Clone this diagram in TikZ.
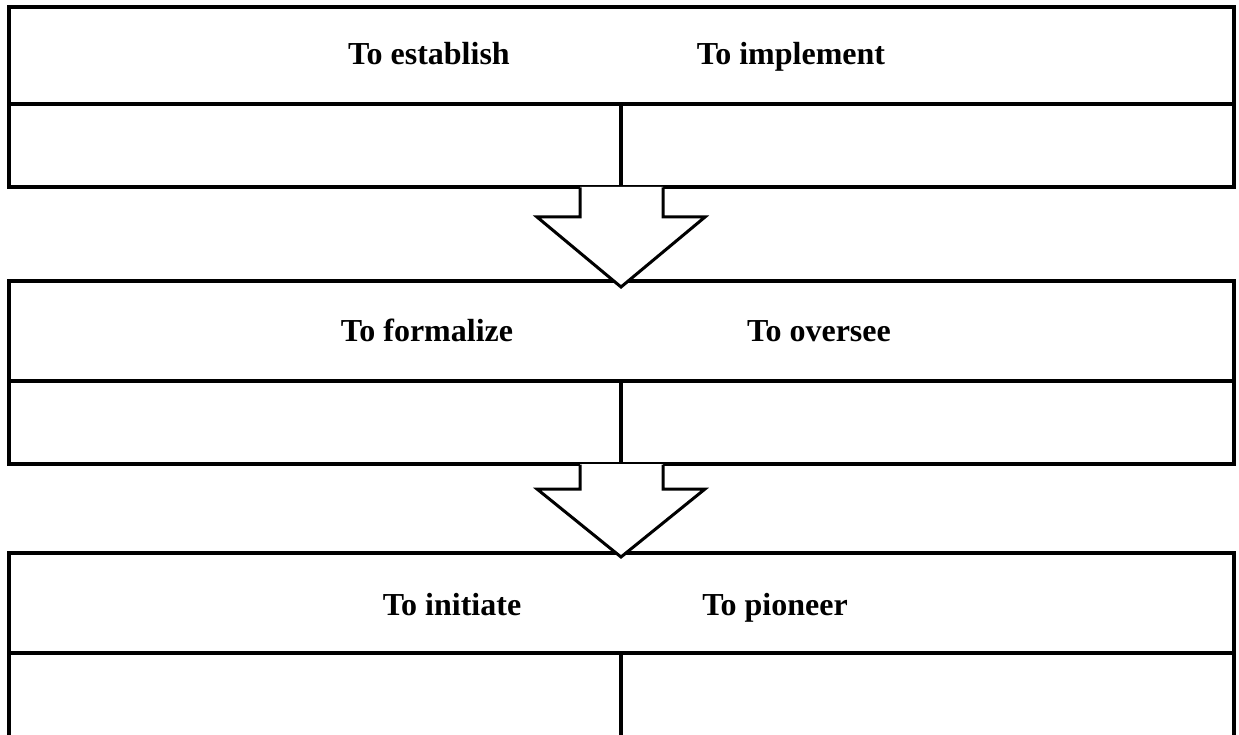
\documentclass[tikz,border=0pt]{standalone}
\usepackage{fontspec}
\setmainfont{Liberation Serif}
\begin{document}
\begin{tikzpicture}[x=1pt,y=-1pt,
  cell/.style={draw=black,line width=3.5pt,fill=white,inner sep=0pt},
  lbl/.style={anchor=base,inner sep=0pt,font=\fontsize{32}{38}\selectfont\bfseries},
  bigarrow/.style={draw=black,line width=3pt,fill=white,line join=miter}]
\useasboundingbox (0,0) rectangle (1239,735);
% row 1
\node[cell,minimum width=1225pt,minimum height=97pt] (h1) at (621.5,55.5) {};
\node[cell,minimum width=612pt,minimum height=83pt] (l1) at (315,145.5) {};
\node[cell,minimum width=613pt,minimum height=83pt] (r1) at (927.5,145.5) {};
\node[lbl] (t1a) at (429,65) {To establish};
\node[lbl] (t1b) at (791,65) {To implement};
% row 2
\node[cell,minimum width=1225pt,minimum height=100pt] (h2) at (621.5,331) {};
\node[cell,minimum width=612pt,minimum height=83pt] (l2) at (315,422.5) {};
\node[cell,minimum width=613pt,minimum height=83pt] (r2) at (927.5,422.5) {};
\node[lbl] (t2a) at (427,341) {To formalize};
\node[lbl] (t2b) at (819,341) {To oversee};
% row 3
\node[cell,minimum width=1225pt,minimum height=100pt] (h3) at (621.5,603) {};
\node[cell,minimum width=612pt,minimum height=92pt] (l3) at (315,699) {};
\node[cell,minimum width=613pt,minimum height=92pt] (r3) at (927.5,699) {};
\node[lbl] (t3a) at (452,615) {To initiate};
\node[lbl] (t3b) at (775,615) {To pioneer};
% arrow 1
\fill[white] (580,187) -- (580,217) -- (537,217) -- (621,287) -- (705,217) -- (663,217) -- (663,187) -- cycle;
\draw[bigarrow,fill=none] (580,187.5) -- (580,217) -- (537,217) -- (621,287) -- (705,217) -- (663,217) -- (663,187.5);
% arrow 2
\fill[white] (580,464) -- (580,489) -- (537,489) -- (621,557) -- (705,489) -- (663,489) -- (663,464) -- cycle;
\draw[bigarrow,fill=none] (580,464.5) -- (580,489) -- (537,489) -- (621,557) -- (705,489) -- (663,489) -- (663,464.5);
\end{tikzpicture}
\end{document}
